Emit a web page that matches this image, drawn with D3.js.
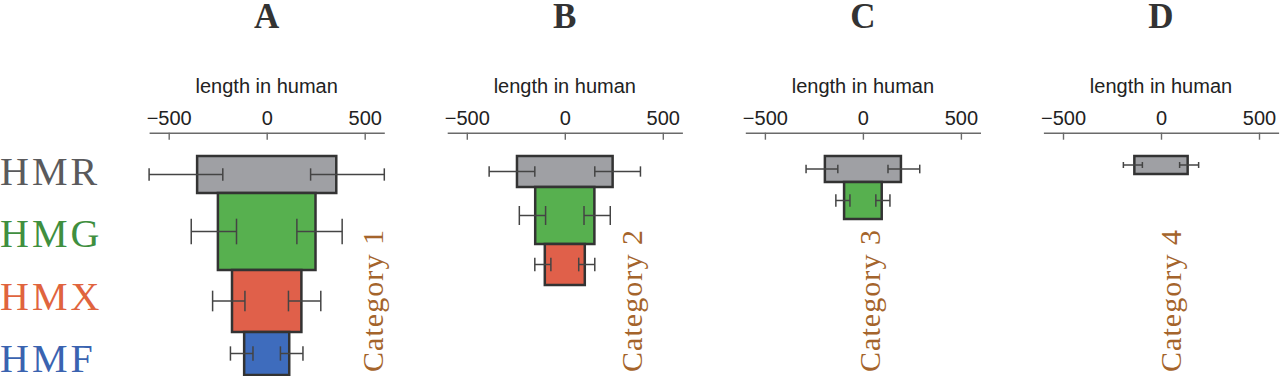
<!DOCTYPE html>
<html>
<head>
<meta charset="utf-8">
<script src="https://cdn.jsdelivr.net/npm/d3@7"></script>
<style>
  body { margin: 0; background: #fff; }
  svg { display: block; }
</style>
</head>
<body>
<svg id="chart" width="1280" height="376"></svg>
<script>
// panels and groups
const panels = ['A', 'B', 'C', 'D'];
const categories = ['Category 1', 'Category 2', 'Category 3', 'Category 4'];
const groups = ['HMR', 'HMG', 'HMX', 'HMF'];
const tickValues = [-500, 0, 500];

// half length of each bar (bar spans -v..v), per panel
const meanLength = [
  [355, 249, 177, 115],
  [244, 151, 102],
  [194, 96],
  [136]
];
// error bars: inner and outer end, measured from 0 on each side
const errLow = [
  [224, 154, 111, 70],
  [153, 98, 71],
  [128, 66],
  [95]
];
const errHigh = [
  [600, 385, 276, 185],
  [386, 232, 153],
  [290, 138],
  [192]
];
// bar thickness (count)
const counts = [
  [37, 77, 62, 43],
  [31, 57, 41],
  [26, 37],
  [18]
];

const fillColor = { HMR: '#9fa0a4', HMG: '#57b04f', HMX: '#e0604a', HMF: '#3e6cbd' };
const labelColor = { HMR: '#5a5a5c', HMG: '#3f8f3f', HMX: '#e0643e', HMF: '#3a63b0' };

const svg = d3.select('#chart');

const PANEL_ZERO = 266.7;
const PANEL_STEP = 298.1;
const HALF_W = 117.6;
const AXIS_Y = 132.7;
const BAR_TOP = 156;
const catOffset = [116, 77, 17, 20];

const hScale = d3.scaleLinear().domain([0, 100]).range([0, 100]);

// left-hand group labels
svg.selectAll('text.group')
  .data(groups)
  .enter()
  .append('text')
  .attr('class', 'group')
  .attr('x', 0)
  .attr('y', (d, i) => 185 + i * 62.4)
  .attr('fill', d => labelColor[d])
  .style('font-family', '"Liberation Serif", "Times New Roman", serif')
  .style('font-size', '40px')
  .style('letter-spacing', '3px')
  .text(d => d);

panels.forEach((p, pi) => {
  const zero = PANEL_ZERO + pi * PANEL_STEP;
  const x = d3.scaleLinear().domain([-600, 600]).range([zero - HALF_W, zero + HALF_W]);
  const g = svg.append('g');

  // panel letter
  g.append('text')
    .attr('x', zero)
    .attr('y', 28)
    .attr('text-anchor', 'middle')
    .attr('fill', '#333')
    .style('font-family', '"Liberation Serif", "Times New Roman", serif')
    .style('font-weight', 'bold')
    .style('font-size', '35px')
    .text(p);

  // axis title
  g.append('text')
    .attr('x', zero)
    .attr('y', 93)
    .attr('text-anchor', 'middle')
    .attr('fill', '#222')
    .style('font-family', '"Liberation Sans", Arial, sans-serif')
    .style('font-size', '20px')
    .text('length in human');

  // axis
  const axis = g.append('g')
    .attr('transform', `translate(0,${AXIS_Y})`)
    .call(d3.axisTop(x).tickValues(tickValues).tickSizeInner(-7).tickSizeOuter(0).tickPadding(8));
  axis.select('.domain').attr('stroke', '#6a6a6a').attr('stroke-width', 1.6);
  axis.selectAll('.tick line').attr('stroke', '#6a6a6a').attr('stroke-width', 1.4);
  axis.selectAll('.tick text')
    .attr('fill', '#222')
    .style('font-family', '"Liberation Sans", Arial, sans-serif')
    .style('font-size', '20px');

  // stack bars vertically
  const rows = meanLength[pi].map((v, i) => ({
    name: groups[i], v: v, lo: errLow[pi][i], hi: errHigh[pi][i], h: hScale(counts[pi][i])
  }));
  let y = BAR_TOP;
  rows.forEach(r => { r.y = y; y += r.h; });

  g.selectAll('rect.bar')
    .data(rows)
    .enter()
    .append('rect')
    .attr('class', 'bar')
    .attr('x', d => x(-d.v))
    .attr('y', d => d.y)
    .attr('width', d => x(d.v) - x(-d.v))
    .attr('height', d => d.h)
    .attr('fill', d => fillColor[d.name])
    .attr('stroke', '#333')
    .attr('stroke-width', 2.5);

  // error bars on both edges
  const errs = [];
  rows.forEach(r => {
    errs.push({ a: -r.hi, b: -r.lo, cy: r.y + r.h / 2, cap: r.h / 3 });
    errs.push({ a: r.lo, b: r.hi, cy: r.y + r.h / 2, cap: r.h / 3 });
  });
  const eg = g.selectAll('g.err').data(errs).enter().append('g')
    .attr('stroke', '#444').attr('stroke-width', 1.5);
  eg.append('line')
    .attr('x1', d => x(d.a)).attr('x2', d => x(d.b))
    .attr('y1', d => d.cy).attr('y2', d => d.cy);
  eg.append('line')
    .attr('x1', d => x(d.a)).attr('x2', d => x(d.a))
    .attr('y1', d => d.cy - d.cap / 2).attr('y2', d => d.cy + d.cap / 2);
  eg.append('line')
    .attr('x1', d => x(d.b)).attr('x2', d => x(d.b))
    .attr('y1', d => d.cy - d.cap / 2).attr('y2', d => d.cy + d.cap / 2);

  // category label
  const cx = zero + catOffset[pi];
  g.append('text')
    .attr('transform', `translate(${cx},372) rotate(-90)`)
    .attr('fill', '#a4642b')
    .attr('textLength', 142)
    .attr('lengthAdjust', 'spacing')
    .style('font-family', '"Liberation Serif", "Times New Roman", serif')
    .style('font-size', '30px')
    .text(categories[pi]);
});
</script>
</body>
</html>
